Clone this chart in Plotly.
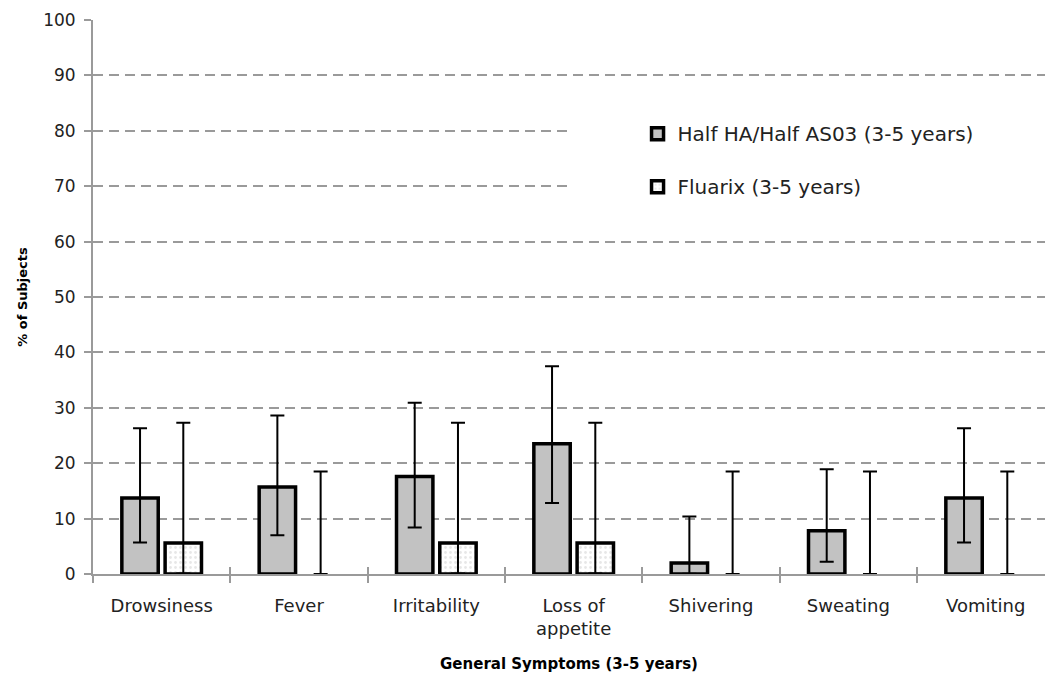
import plotly.graph_objects as go

# Symptom categories (x axis)
categories = ["Drowsiness", "Fever", "Irritability", "Loss of<br>appetite",
              "Shivering", "Sweating", "Vomiting"]

# Half HA/Half AS03 group: % of subjects with 95% CI bounds
adj_pct = [13.7, 15.7, 17.6, 23.5, 2.0, 7.8, 13.7]
adj_lo = [5.7, 7.0, 8.4, 12.8, 0.05, 2.2, 5.7]
adj_hi = [26.3, 28.6, 30.9, 37.5, 10.4, 18.9, 26.3]

# Fluarix group: % of subjects with 95% CI bounds
flu_pct = [5.6, 0.0, 5.6, 5.6, 0.0, 0.0, 0.0]
flu_lo = [0.1, 0.0, 0.1, 0.1, 0.0, 0.0, 0.0]
flu_hi = [27.3, 18.5, 27.3, 27.3, 18.5, 18.5, 18.5]

y_ticks = list(range(0, 101, 10))

pos = list(range(len(categories)))
FONT = "DejaVu Sans"
GRID = "#9a9a9a"
EDGE = 3.5


def err(pct, lo, hi):
    return dict(type="data", symmetric=False,
                array=[h - p for p, h in zip(pct, hi)],
                arrayminus=[p - l for p, l in zip(pct, lo)],
                color="black", thickness=2, width=7)


def edges(pct):
    # no outline on empty bars, so only the CI whisker is drawn there
    return [EDGE if p > 0 else 0 for p in pct]


fig = go.Figure()
fig.add_trace(go.Bar(
    x=pos, y=adj_pct, name="Half HA/Half AS03 (3-5 years)",
    width=0.265, offset=-0.29,
    marker=dict(color="#c2c2c2", line=dict(color="black", width=edges(adj_pct))),
    error_y=err(adj_pct, adj_lo, adj_hi),
    legendgroup="a",
))
fig.add_trace(go.Bar(
    x=pos, y=flu_pct, name="Fluarix (3-5 years)",
    width=0.265, offset=0.025,
    marker=dict(color="white", line=dict(color="black", width=edges(flu_pct)),
                pattern=dict(shape=".", fgcolor="#d0d0d0", bgcolor="white",
                             size=5, solidity=0.25)),
    error_y=err(flu_pct, flu_lo, flu_hi),
    legendgroup="b",
))
# empty trace carrying the upper half of the category boundary ticks
fig.add_trace(go.Scatter(x=[], y=[], xaxis="x2", showlegend=False))

x_range = [-0.5, 6.432]

fig.update_layout(
    width=1045, height=675,
    margin=dict(l=93, r=0, t=20, b=101),
    paper_bgcolor="white", plot_bgcolor="white",
    barmode="overlay",
    font=dict(family=FONT, color="#222"),
    showlegend=True,
    legend=dict(x=0.572, y=0.83, xanchor="left", yanchor="top",
                bgcolor="rgba(0,0,0,0)", font=dict(size=20, color="#222"),
                traceorder="grouped", tracegroupgap=24),
    xaxis=dict(
        range=x_range, tickmode="array", tickvals=pos, ticktext=categories,
        ticks="", ticklabelstandoff=14, tickfont=dict(size=18, color="#222"),
        showline=True, linecolor=GRID, linewidth=2, showgrid=False,
        zeroline=False,
        minor=dict(tick0=-0.5, dtick=1, ticks="outside", ticklen=7,
                   tickwidth=2, tickcolor=GRID, showgrid=False),
        title=dict(text="<b>General Symptoms (3-5 years)</b>",
                   font=dict(size=15, color="black"), standoff=20),
    ),
    xaxis2=dict(
        range=x_range, overlaying="x", anchor="y", side="bottom",
        tickmode="linear", tick0=-0.5, dtick=1, ticks="inside", ticklen=7,
        tickwidth=2, tickcolor=GRID, showticklabels=False,
        showline=False, showgrid=False, zeroline=False,
    ),
    yaxis=dict(
        range=[0, 100], tickmode="array", tickvals=y_ticks,
        ticks="outside", ticklen=7, tickwidth=2, tickcolor=GRID,
        ticklabelstandoff=5, tickfont=dict(size=17, color="#222"),
        showline=True, linecolor=GRID, linewidth=2,
        showgrid=True, gridcolor=GRID, gridwidth=2, griddash="10px,6px",
        zeroline=False,
        title=dict(text="<b>% of Subjects</b>",
                   font=dict(size=13, color="black"), standoff=13),
    ),
    shapes=[dict(type="rect", xref="paper", yref="paper",
                 x0=0.503, x1=1.0, y0=0.648, y1=0.856,
                 fillcolor="white", line=dict(width=0), layer="above")],
)

fig.write_html("out.html")
